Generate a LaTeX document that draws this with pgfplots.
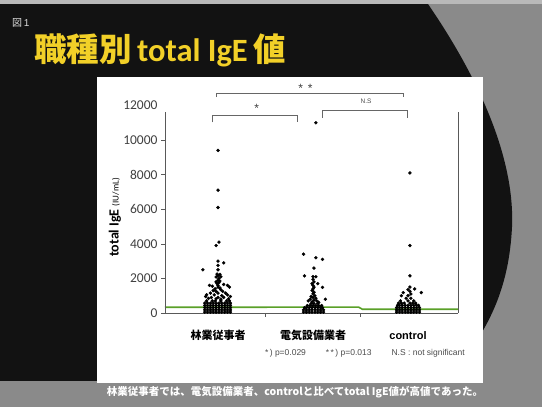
\documentclass[border=0pt]{standalone}
\usepackage{pgfplots}
\pgfplotsset{compat=1.18}
\usepackage{fontspec}
\setmainfont{Liberation Sans}
\newfontfamily\cjk{Noto Sans CJK JP}
\newfontfamily\carlito{Carlito}
\definecolor{ttl}{RGB}{242,208,40}
\definecolor{grn}{RGB}{90,160,40}
\definecolor{bgg}{RGB}{138,138,138}
\begin{document}
\begin{tikzpicture}[x=1pt,y=1pt]
\fill[bgg] (0,0) rectangle (542,407);
\fill[black!93] (0,403) -- (428,403) .. controls (478,330) and (515,250) .. (512,180) .. controls (509,120) and (490,75) .. (445,26) -- (0,26) -- cycle;
\fill[gray!55] (0,403) rectangle (542,407);
\fill[white] (97,330) rectangle (483,24);
\begin{axis}[at={(165pt,94pt)}, anchor=south west, scale only axis,
  width=293pt, height=207.5pt,
  xmin=0.442, xmax=3.526, ymin=0, ymax=12000, clip=false,
  axis x line*=bottom, axis y line*=left,
  y axis line style={draw=none},
  x axis line style={draw=black!65, line width=0.6pt},
  tick align=outside, major tick length=4pt,
  tick style={black!65, line width=0.6pt},
  scaled y ticks=false,
  ytick={0,2000,4000,6000,8000,10000},
  extra y ticks={12000}, extra y tick style={tick style={draw=none}},
  xtick={1.5,2.5}, xticklabels={},
  extra x ticks={1,2,3},
  extra x tick labels={{\cjk\bfseries 林業従事者},{\cjk\bfseries 電気設備業者},{\bfseries control}},
  extra x tick style={tick style={draw=none}, tick label style={anchor=north, text height=9pt, text depth=2.5pt, yshift=-10pt, font=\fontsize{11}{11}\selectfont, text=black}},
  yticklabel style={font=\carlito\fontsize{13.5}{14}\selectfont, text=black!75},
  /pgf/number format/1000 sep={},
  /pgf/number format/assume math mode=true,
  ylabel={\carlito\bfseries\fontsize{14}{14}\selectfont total IgE {\mdseries\fontsize{9}{9}\selectfont (IU/mL)}},
  ylabel style={at={(axis description cs:-0.171,0.46)}, anchor=center, rotate=0, text=black},
]
\addplot[grn, line width=1.6pt] coordinates {(0.442,330)(2.48,340)(2.52,215)(3.526,215)};
% cluster 1
\addplot[only marks, mark=*, mark size=1.5pt, black] coordinates {
(1.00,9400)(1.00,7100)(1.00,6100)(0.98,3900)(1.01,4100)(1.00,3000)(1.06,2900)(0.84,2500)(1.00,2750)(1.00,2500)
(0.99,2250)(1.02,2230)(1.00,2150)(1.03,2100)(0.98,2080)(1.01,2000)(1.00,1900)(1.02,1850)(0.98,1800)(1.01,1750)
(0.99,1700)(1.06,1650)(1.10,1600)(0.91,1600)(0.94,1550)(1.12,1500)(1.00,1600)(1.00,1500)(1.02,1450)(0.97,1400)
(1.03,1350)(0.95,1300)(1.05,1250)(0.98,1250)(0.92,1150)(1.08,1150)(1.00,1150)(0.88,1050)(1.10,1050)(0.96,1050)
(1.04,1000)(0.87,950)(1.13,950)(0.93,900)(1.06,900)(1.00,900)(0.90,850)(1.11,820)(0.98,820)(1.03,800)
(0.86,50)(0.89,50)(0.92,50)(0.95,50)(0.98,50)(1.01,50)(1.04,50)(1.07,50)(1.10,50)(1.13,50)
(0.86,180)(0.89,180)(0.92,180)(0.95,180)(0.98,180)(1.01,180)(1.04,180)(1.07,180)(1.10,180)(1.13,180)
(0.86,310)(0.89,310)(0.92,310)(0.95,310)(0.98,310)(1.01,310)(1.04,310)(1.07,310)(1.10,310)(1.13,310)
(0.86,440)(0.89,440)(0.92,440)(0.95,440)(0.98,440)(1.01,440)(1.04,440)(1.07,440)(1.10,440)(1.13,440)
(0.86,570)(0.89,570)(0.92,570)(0.95,570)(0.98,570)(1.01,570)(1.04,570)(1.07,570)(1.10,570)(1.13,570)
(0.88,700)(0.94,700)(0.97,700)(1.03,700)(1.09,700)(1.12,700)
};
% cluster 2
\addplot[only marks, mark=*, mark size=1.5pt, black] coordinates {
(2.03,11000)(1.90,3400)(2.03,3200)(2.10,3100)(2.01,2600)(1.91,2150)(2.00,2100)(2.03,2100)(2.05,1700)(2.10,1480)(2.13,800)
(2.00,1950)(2.01,1800)(1.99,1700)(2.00,1600)(2.01,1500)(2.00,1400)(1.99,1300)(2.01,1200)(2.00,1100)(2.02,1000)
(1.98,950)(2.00,900)(2.03,850)(1.97,800)(2.01,750)(1.95,700)(2.04,700)(1.99,650)(2.06,620)
(1.90,50)(1.93,50)(1.96,50)(1.99,50)(2.02,50)(2.05,50)(2.08,50)(2.11,50)
(1.90,180)(1.93,180)(1.96,180)(1.99,180)(2.02,180)(2.05,180)(2.08,180)(2.11,180)
(1.91,310)(1.93,310)(1.96,310)(1.99,310)(2.02,310)(2.05,310)(2.08,310)(2.10,310)
(1.94,430)(1.97,430)(2.00,430)(2.03,430)(2.06,430)(2.09,430)
(1.98,550)(2.01,550)(2.05,550)
};
% cluster 3
\addplot[only marks, mark=*, mark size=1.5pt, black] coordinates {
(3.02,8100)(3.02,3900)(3.02,2150)(3.02,1500)(2.95,1180)(3.07,1390)(3.14,1180)(3.00,1350)(3.02,1250)(3.03,1100)(2.93,1000)(3.00,1000)
(2.88,50)(2.91,50)(2.94,50)(2.97,50)(3.00,50)(3.03,50)(3.06,50)(3.09,50)(3.12,50)
(2.88,180)(2.91,180)(2.94,180)(2.97,180)(3.00,180)(3.03,180)(3.06,180)(3.09,180)(3.12,180)
(2.88,310)(2.91,310)(2.94,310)(2.97,310)(3.00,310)(3.03,310)(3.06,310)(3.09,310)(3.12,310)
(2.89,440)(2.91,440)(2.94,440)(2.97,440)(3.00,440)(3.03,440)(3.06,440)(3.09,440)(3.11,440)
(2.90,570)(2.93,570)(2.96,570)(3.02,570)(3.05,570)(3.08,570)
(2.92,700)(3.00,700)(3.06,700)(2.98,850)(3.03,850)
};
\draw[black!65, line width=0.6pt] (rel axis cs:0,0) -- (rel axis cs:0,0.967);
\draw[black!65, line width=0.6pt] (rel axis cs:1,0) -- (rel axis cs:1,0.967);
% significance brackets
\draw[black!60, line width=0.5pt] (axis cs:0.986,12480) -- (axis cs:0.986,12695) -- (axis cs:2.951,12695) -- (axis cs:2.951,12480);
\draw[black!60, line width=0.5pt] (axis cs:0.937,11030) -- (axis cs:0.937,11440) -- (axis cs:1.832,11440) -- (axis cs:1.832,11030);
\draw[black!60, line width=0.5pt] (axis cs:2.095,11290) -- (axis cs:2.095,11710) -- (axis cs:2.997,11710) -- (axis cs:2.997,11290);
\node[font=\fontsize{12}{12}\selectfont, text=black!75] at (axis cs:1.92,13000) {*\hspace{5pt}*};
\node[font=\fontsize{12}{12}\selectfont, text=black!75] at (axis cs:1.406,11850) {*};
\node[font=\fontsize{6.5}{6.5}\selectfont, text=black!70] at (axis cs:2.558,12250) {N.S};
\end{axis}
% title and texts
\node[anchor=west, text=white!85!black, font=\fontsize{10}{10}\selectfont, inner sep=0pt] at (12,384) {{\cjk 図}\,1};
\node[anchor=west, text=ttl, inner sep=0pt, font=\fontsize{32.5}{32.5}\selectfont] at (34,357) {{\cjk\bfseries 職種別}\,{\carlito\bfseries total IgE}\,{\cjk\bfseries 値}};
\node[anchor=east, text=black!70, font=\fontsize{8.5}{8.5}\selectfont, inner sep=0pt] at (465,54) {*\,) p=0.029\hspace{20pt}*\,*\,) p=0.013\hspace{20pt}N.S : not significant};
\node[text=white, font=\cjk\bfseries\fontsize{10.5}{10.5}\selectfont, inner sep=0pt] at (295,15) {林業従事者では、電気設備業者、controlと比べてtotal IgE値が高値であった。};
\end{tikzpicture}
\end{document}
